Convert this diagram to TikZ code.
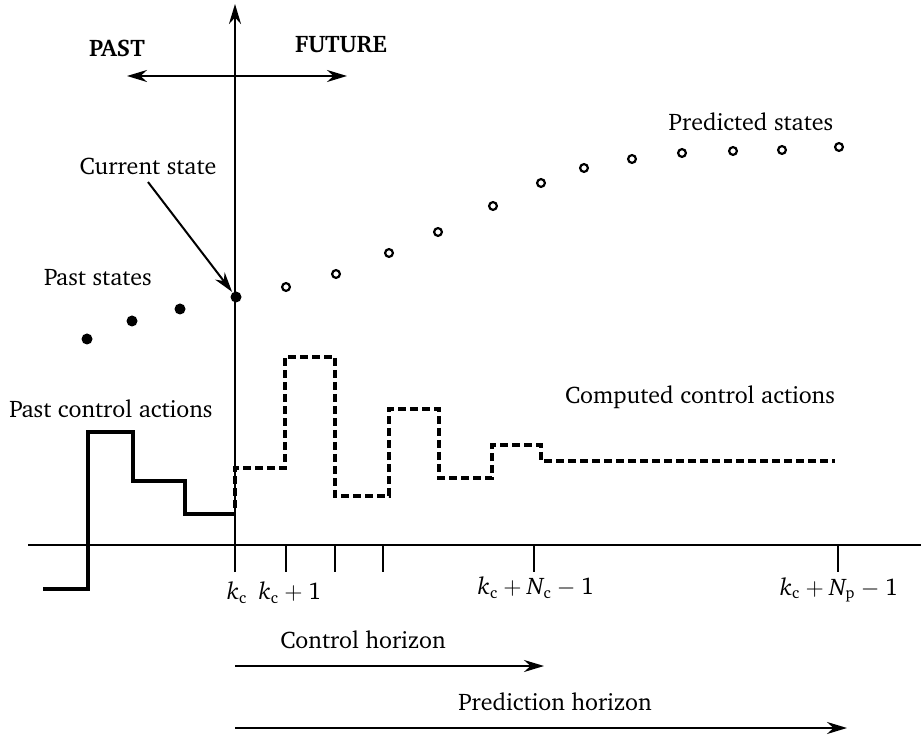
\documentclass[tikz,border=0pt]{standalone}
\usepackage[T1]{fontenc}
\usepackage{charter}
\usepackage{amsmath}
\usepackage{tikz}
\usetikzlibrary{arrows.meta}

\newcommand{\kc}{\textit{k}_{\text{c}}}

\begin{document}
\begin{tikzpicture}[x=0.5pt, y=-0.5pt, line width=1pt,
  every node/.style={font=\fontsize{12}{14}\selectfont},
  tip/.style={-{Stealth[length=10pt,width=6pt]}},
  pastdot/.style={circle,fill,inner sep=0,minimum width=4.8pt,minimum height=5.5pt},
  preddot/.style={circle,draw,line width=1.1pt,inner sep=0,minimum size=3.9pt},
  ctrl/.style={line width=1.6pt},
  plan/.style={line width=1.6pt,dash pattern=on 4pt off 2pt}]
\useasboundingbox (0,0) rectangle (921,737);
% axes
\coordinate (vlo) at (235,572); \coordinate (vhi) at (235,4);
\coordinate (hlo) at (28,545); \coordinate (hhi) at (921,545);
\draw[tip,line width=1.2pt] (vlo) -- (vhi);
\draw (hlo) -- (hhi);
\foreach \x in {286,335,383,534,838} \draw[line width=1.2pt] (\x,545) -- (\x,572);
% past / future
\coordinate (pl) at (127,76); \coordinate (fr) at (347,76);
\draw[{Stealth[length=10pt,width=6pt]}-{Stealth[length=10pt,width=6pt]}] (pl) -- (fr);
\node[font=\fontsize{12}{14}\selectfont\bfseries] (past) at (117,48) {PAST};
\node[font=\fontsize{12}{14}\selectfont\bfseries] (future) at (341,44) {FUTURE};
% states
\foreach \n/\x/\y in {1/87/339,2/132/321,3/180/309} \node[pastdot] (p\n) at (\x,\y) {};
\node[pastdot] (x0) at (236,297) {};
\foreach \n/\x/\y in {1/286/287,2/336/274,3/389/253,4/438/232,5/493/206,6/541/183,7/584/168,8/632/159,9/682/153,10/733/151,11/782/150,12/839/147}
  \node[preddot] (q\n) at (\x,\y) {};
\node (paststates) at (98,277) {Past states};
\node (current) at (148,166) {Current state};
\node (predicted) at (751,122) {Predicted states};
\draw[tip] (current.south) -- (x0);
% control actions
\draw[ctrl] (43,589) -| (88,432) -| (133,481) -| (185,514) -- (235,514);
\draw[plan] (235,508) |- (285,468) |- (335,357) |- (389,496) |- (439,409) |- (492,478) |- (541,445) |- (835,461);
\node (pastctrl) at (111,409) {Past control actions};
\node (compctrl) at (700,397) {Computed control actions};
% tick labels
\node (k0) at (237,593) {$\kc$};
\node (k1) at (290,593) {$\kc+\text{1}$};
\node (kn) at (536,588) {$\kc+\textit{N}_{\text{c}}-\text{1}$};
\node (kp) at (839,590) {$\kc+\textit{N}_{\text{p}}-\text{1}$};
% horizons
\node (chor) at (363,640) {Control horizon};
\node (phor) at (555,702) {Prediction horizon};
\coordinate (c0) at (235,666); \coordinate (c1) at (544,666);
\coordinate (h0) at (235,728); \coordinate (h1) at (847,728);
\draw[tip] (c0) -- (c1);
\draw[tip] (h0) -- (h1);
\end{tikzpicture}
\end{document}
